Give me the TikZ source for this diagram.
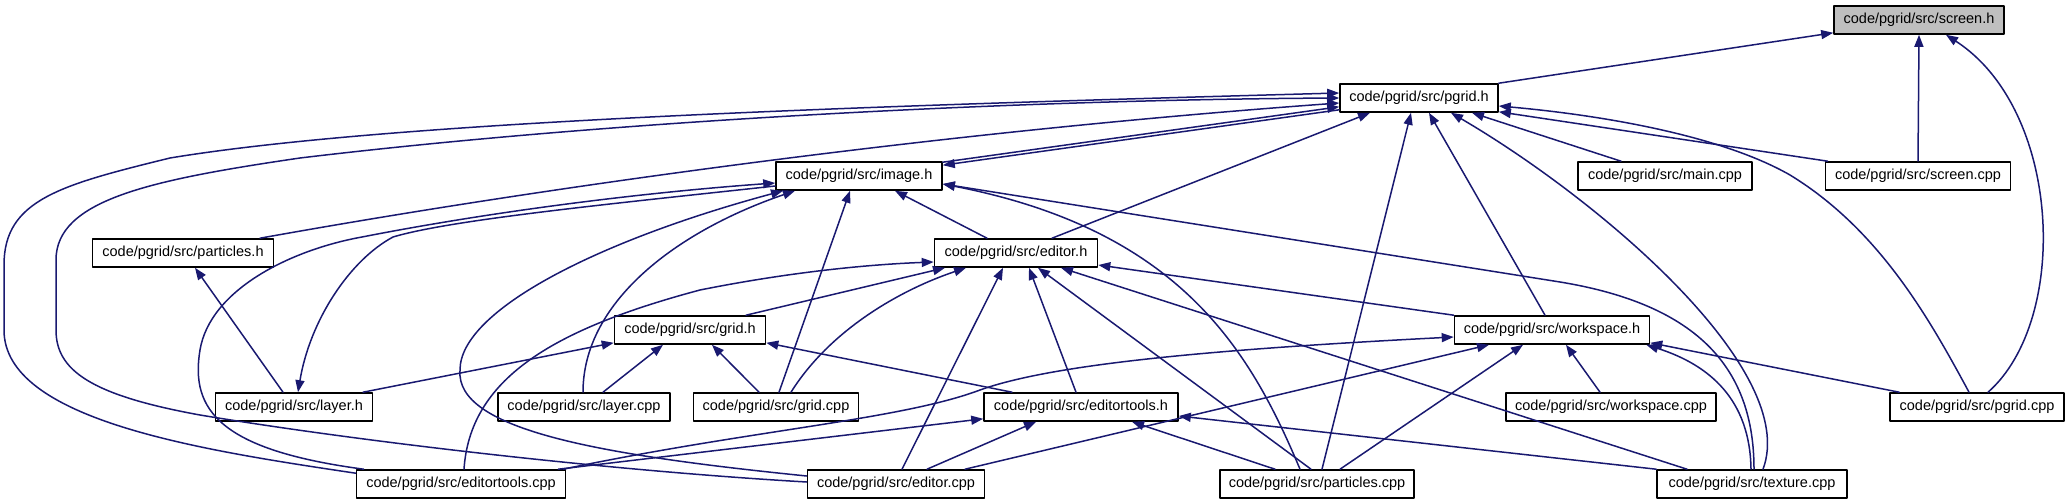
\documentclass[tikz,border=0pt]{standalone}
\usepackage{fontspec}
\setmainfont{Liberation Sans}
\usetikzlibrary{arrows.meta}
\definecolor{edgeblue}{HTML}{191970}
\definecolor{rootfill}{HTML}{BFBFBF}

\begin{document}
\begin{tikzpicture}[x=1pt,y=-1pt,line cap=round,line join=round,
  file/.style={draw=black,line width=1.6pt,fill=white,minimum height=28pt,inner sep=0pt,font=\fontsize{14.5}{14.5}\selectfont},
  dep/.style={draw=edgeblue,line width=1.5pt,-{Triangle[length=12pt,width=9pt]}}]
  \useasboundingbox (0,0) rectangle (2069,503);
  \foreach \n/\x/\y/\w/\t in {pgridh/1419/98/158/pgrid.h,imageh/859/176/166/image.h,maincpp/1665/176/174/main.cpp,screencpp/1918/176/185/screen.cpp,particlesh/183/253/181/particles.h,editorh/1016/253/163/editor.h,gridh/690/330/151/grid.h,workspaceh/1552/330/195/workspace.h,layerh/294/407/157/layer.h,layercpp/584/407/172/layer.cpp,gridcpp/776/407/165/grid.cpp,editortoolsh/1081/407/194/editortools.h,workspacecpp/1611/407/210/workspace.cpp,pgridcpp/1977/407/174/pgrid.cpp,editortoolscpp/461/484/209/editortools.cpp,editorcpp/896/484/177/editor.cpp,particlescpp/1317/484/194/particles.cpp,texturecpp/1752/484/190/texture.cpp}{\node[file,minimum width=\w] (\n) at (\x,\y) {code/pgrid/src/\t};}
  \node[file,fill=rootfill,minimum width=170] (screenh) at (1919,20) {code/pgrid/src/screen.h};

  \draw[dep] (pgridh.north east) -- ([yshift=2pt]screenh.south west);
  \draw[dep] (screencpp.north) -- (screenh.south);
  \draw[dep] ([xshift=11pt]pgridcpp.north) .. controls (2070,320) and (2062,110) .. ([xshift=27pt]screenh.south);

  \draw[dep] ([yshift=-1pt]imageh.north east) -- ([yshift=6pt]pgridh.south west);
  \draw[dep] ([yshift=3pt]pgridh.south west) -- ([yshift=-4pt]imageh.north east);
  \draw[dep] ([xshift=77pt]particlesh.north) .. controls (500,195) and (900,135) .. ([yshift=-5pt]pgridh.west);
  \draw[dep] ([xshift=36pt]editorh.north) -- ([xshift=-49pt]pgridh.south);
  \draw[dep] ([xshift=-7pt]workspaceh.north) -- ([xshift=10pt]pgridh.south);
  \draw[dep] ([xshift=-44pt]maincpp.north) -- ([xshift=53pt]pgridh.south);
  \draw[dep] ([xshift=3pt]screencpp.north west) -- ([yshift=1pt]pgridh.south east);
  \draw[dep] ([xshift=-8pt]pgridcpp.north) .. controls (1930,320) and (1880,230) .. (1790,175) .. controls (1720,135) and (1600,115) .. ([yshift=-8pt]pgridh.east);
  \draw[dep] ([xshift=11pt]texturecpp.north) .. controls (1800,370) and (1600,200) .. ([xshift=32pt]pgridh.south);
  \draw[dep] ([xshift=5pt]particlescpp.north) -- ([xshift=-8pt]pgridh.south);
  \draw[dep] ([yshift=2pt]editorcpp.west) .. controls (600,470) and (350,440) .. (200,415) .. controls (90,395) and (56,370) .. (56,330) -- (56,260) .. controls (56,200) and (150,180) .. (300,158) .. controls (600,122) and (1000,100) .. (pgridh.west);
  \draw[dep] ([yshift=-4pt]editortoolscpp.north west) .. controls (200,450) and (4,420) .. (4,330) -- (4,265) .. controls (4,200) and (60,185) .. (170,158) .. controls (400,120) and (900,105) .. ([yshift=5pt]pgridh.west);

  \draw[dep] ([xshift=-29pt]editorh.north) -- ([xshift=36pt]imageh.south);
  \draw[dep] ([xshift=3pt]gridcpp.north) -- ([xshift=-9pt]imageh.south);
  \draw[dep] ([xshift=-1pt]layercpp.north) .. controls (583,300) and (680,230) .. ([xshift=-64pt]imageh.south);
  \draw[dep] ([yshift=8pt]editorcpp.west) .. controls (600,455) and (455,430) .. (460,370) .. controls (460,310) and (600,240) .. ([xshift=-76pt]imageh.south);
  \draw[dep] ([xshift=8pt]editortoolscpp.north west) .. controls (220,450) and (190,410) .. (200,350) .. controls (210,290) and (290,250) .. (362,237) .. controls (500,210) and (650,192) .. ([yshift=-7pt]imageh.west);
  \draw[dep] ([xshift=-17pt]particlescpp.north) .. controls (1250,350) and (1180,230) .. ([yshift=-8pt]imageh.east);
  \draw[dep] ([xshift=2pt]texturecpp.north) .. controls (1754,370) and (1700,305) .. (1560,282) -- ([yshift=-8pt]imageh.east);

  \draw[dep] ([yshift=-10pt]imageh.west) .. controls (600,205) and (450,220) .. (393,237) .. controls (350,260) and (310,320) .. ([xshift=4pt]layerh.north);
  \draw[dep] ([xshift=-11pt]layerh.north) -- ([xshift=12pt]particlesh.south);

  \draw[dep] ([xshift=69pt]layerh.north) -- ([yshift=2pt]gridh.south west);
  \draw[dep] ([xshift=19pt]layercpp.north) -- ([xshift=-27pt]gridh.south);
  \draw[dep] ([xshift=-17pt]gridcpp.north) -- ([xshift=22pt]gridh.south);
  \draw[dep] ([xshift=-69pt]editortoolsh.north) -- ([yshift=2pt]gridh.south east);

  \draw[dep] ([xshift=56pt]gridh.north) -- ([xshift=-71pt]editorh.south);
  \draw[dep] ([xshift=15pt]gridcpp.north) .. controls (830,330) and (900,290) .. ([xshift=-50pt]editorh.south);
  \draw[dep] ([xshift=6pt]editorcpp.north) -- ([xshift=-13pt]editorh.south);
  \draw[dep] ([xshift=-5pt]editortoolsh.north) -- ([xshift=13pt]editorh.south);
  \draw[dep] ([xshift=-6pt]particlescpp.north) -- ([xshift=22pt]editorh.south);
  \draw[dep] ([xshift=-65pt]texturecpp.north) -- ([xshift=45pt]editorh.south);
  \draw[dep] (workspaceh.north west) -- ([yshift=-12pt]editorh.east);
  \draw[dep] ([xshift=3pt]editortoolscpp.north) .. controls (470,380) and (550,330) .. (700,290) .. controls (800,270) and (880,264) .. ([yshift=-9pt]editorh.west);

  \draw[dep] ([xshift=-3pt]editortoolscpp.north east) .. controls (750,430) and (900,420) .. (980,390) .. controls (1050,365) and (1200,350) .. ([yshift=-7pt]workspaceh.west);
  \draw[dep] ([xshift=69pt]editorcpp.north) -- ([xshift=-63pt]workspaceh.south);
  \draw[dep] ([xshift=23pt]particlescpp.north) -- ([xshift=-29pt]workspaceh.south);
  \draw[dep] ([xshift=-11pt]workspacecpp.north) -- ([xshift=14pt]workspaceh.south);
  \draw[dep] ([xshift=-1pt]texturecpp.north) .. controls (1750,400) and (1710,365) .. ([xshift=-4pt]workspaceh.south east);
  \draw[dep] ([xshift=10pt]pgridcpp.north west) -- ([yshift=2pt]workspaceh.south east);

  \draw[dep] ([xshift=-8pt]editortoolscpp.north east) -- ([yshift=3pt]editortoolsh.south west);
  \draw[dep] ([xshift=31pt]editorcpp.north) -- ([xshift=-45pt]editortoolsh.south);
  \draw[dep] ([xshift=-42pt]particlescpp.north) -- ([xshift=51pt]editortoolsh.south);
  \draw[dep] (texturecpp.north west) -- ([yshift=-9pt]editortoolsh.east);
\end{tikzpicture}
\end{document}
